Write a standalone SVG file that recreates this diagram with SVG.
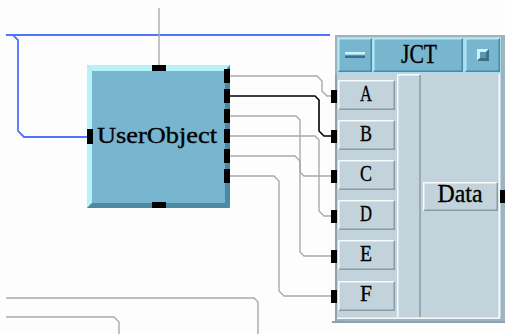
<svg xmlns="http://www.w3.org/2000/svg" width="505" height="334" viewBox="0 0 505 334">
  <style>
    .wire{fill:none;stroke:#a9a9a9;stroke-width:1.4}
    .wire-hot{fill:none;stroke:#000;stroke-width:1.6}
    .wire-blue{fill:none;stroke:#4f74ff;stroke-width:1.8}
    .pin{fill:#000}
    .lbl{font-family:"Liberation Serif","DejaVu Serif",serif;fill:#000;stroke:#000;stroke-width:0.35;text-anchor:middle}
    .panel{fill:#c3d3dc}
    .hi{fill:none;stroke:#f6fbfd;stroke-width:1.5}
    .lo{fill:none;stroke:#8a9ba7;stroke-width:1.5}
    .cell{fill:#78b5cf}
    .cell-hi{fill:none;stroke:#b4eaf4;stroke-width:1.5}
    .cell-lo{fill:none;stroke:#4a8aa3;stroke-width:1.5}
  </style>

  <rect width="505" height="334" fill="#fdfdfd"/>

  <!-- wires -->
  <g id="connectors">
    <path class="wire-blue" d="M6,35 H330"/>
    <path class="wire-blue" d="M13,35 L18,40 V131 L24,137 H87"/>
    <path class="wire" d="M159,8 V65"/>
    <path class="wire" d="M230,76 H317 L322,81 V91 L327,96 H331"/>
    <path class="wire-hot" d="M230,96 H315 L319,100 V131 L324,136 H331"/>
    <path class="wire" d="M230,116 H296 L300,120 V252 L304,256 H331"/>
    <path class="wire" d="M230,136 H315 L319,140 V211 L324,216 H331"/>
    <path class="wire" d="M230,156 H295 L300,161 V172 L304,176 H331"/>
    <path class="wire" d="M230,176 H274 L279,181 V291 L284,296 H331"/>
    <path class="wire" d="M6,298 H254 L258,302 V334"/>
    <path class="wire" d="M6,317 H114 L119,322 V334"/>
  </g>

  <!-- UserObject -->
  <g id="userobject">
    <rect x="87" y="65" width="143" height="143" fill="#78b5cf"/>
    <polygon points="87,65 230,65 225,71 92,71" fill="#b8f2f8"/>
    <polygon points="87,65 92,71 92,203 87,208" fill="#b8f2f8"/>
    <polygon points="87,208 92,203 225,203 230,208" fill="#4a8aa3"/>
    <polygon points="230,65 230,208 225,203 225,71" fill="#4a8aa3"/>
    <rect class="pin" x="152" y="65" width="14" height="6"/>
    <rect class="pin" x="152" y="202" width="14" height="6"/>
    <rect class="pin" x="87" y="129" width="6" height="15"/>
    <rect class="pin" x="224" y="69" width="6" height="14"/>
    <rect class="pin" x="224" y="89" width="6" height="14"/>
    <rect class="pin" x="224" y="109" width="6" height="14"/>
    <rect class="pin" x="224" y="129" width="6" height="14"/>
    <rect class="pin" x="224" y="149" width="6" height="14"/>
    <rect class="pin" x="224" y="169" width="6" height="14"/>
    <text class="lbl" x="157" y="143" font-size="24" textLength="120" lengthAdjust="spacingAndGlyphs">UserObject</text>
  </g>

  <!-- JCT -->
  <g id="jct">
    <rect x="335" y="35" width="170" height="288" fill="#9fb3bf"/>
    <rect x="337" y="37" width="164" height="36" fill="#a8dcea"/>
    <rect class="panel" x="337" y="73" width="164" height="245"/>
    <!-- title bar -->
    <rect class="cell" x="338" y="38" width="34" height="34"/>
    <path class="cell-hi" d="M338.75,71 V38.75 H371"/>
    <path class="cell-lo" d="M339,71.25 H371.25 V39"/>
    <rect class="cell" x="373" y="38" width="90" height="34"/>
    <path class="cell-hi" d="M373.75,71 V38.75 H462"/>
    <path class="cell-lo" d="M374,71.25 H462.25 V39"/>
    <rect class="cell" x="465" y="38" width="35" height="34"/>
    <path class="cell-hi" d="M465.75,71 V38.75 H499"/>
    <path class="cell-lo" d="M466,71.25 H499.25 V39"/>
    <rect x="345" y="52" width="20" height="6" fill="#78b5cf"/>
    <rect x="345" y="52" width="20" height="2.5" fill="#c8f4fa"/>
    <rect x="345" y="55.5" width="20" height="2.5" fill="#3a7088"/>
    <polygon points="477,49 489,49 477,61" fill="#c8f4fa"/>
    <polygon points="489,49 489,61 477,61" fill="#3a7088"/>
    <rect x="480" y="52" width="6" height="6" fill="#5a98b2"/>
    <text class="lbl" x="419" y="63" font-size="27" textLength="36" lengthAdjust="spacingAndGlyphs">JCT</text>

    <!-- body -->
    <path class="lo" d="M336,74 V322"/>
    <rect class="panel" x="397" y="74" width="24" height="243"/>
    <path class="hi" d="M397.75,317 V74.75 H420"/>
    <path class="lo" d="M420,75 V317"/>
    <path class="hi" d="M499.25,74 V318"/>
    <path class="hi" d="M337,318.25 H500"/>
    <path d="M332,322 H505" stroke="#8fa0ab" stroke-width="2"/>

    <!-- input terminals -->
    <g id="term-a">
      <path class="hi" d="M338.75,110 V80.75 H394"/>
      <path class="lo" d="M339,109.25 H394.25 V81"/>
      <rect class="pin" x="331" y="90" width="6" height="13"/>
      <text class="lbl" x="366" y="101" font-size="24" textLength="12" lengthAdjust="spacingAndGlyphs">A</text>
    </g>
    <g id="term-b">
      <path class="hi" d="M338.75,150 V120.75 H394"/>
      <path class="lo" d="M339,149.25 H394.25 V121"/>
      <rect class="pin" x="331" y="130" width="6" height="13"/>
      <text class="lbl" x="366" y="141" font-size="24" textLength="12" lengthAdjust="spacingAndGlyphs">B</text>
    </g>
    <g id="term-c">
      <path class="hi" d="M338.75,190 V160.75 H394"/>
      <path class="lo" d="M339,189.25 H394.25 V161"/>
      <rect class="pin" x="331" y="170" width="6" height="13"/>
      <text class="lbl" x="366" y="181" font-size="24" textLength="12" lengthAdjust="spacingAndGlyphs">C</text>
    </g>
    <g id="term-d">
      <path class="hi" d="M338.75,230 V200.75 H394"/>
      <path class="lo" d="M339,229.25 H394.25 V201"/>
      <rect class="pin" x="331" y="210" width="6" height="13"/>
      <text class="lbl" x="366" y="221" font-size="24" textLength="12" lengthAdjust="spacingAndGlyphs">D</text>
    </g>
    <g id="term-e">
      <path class="hi" d="M338.75,270 V240.75 H394"/>
      <path class="lo" d="M339,269.25 H394.25 V241"/>
      <rect class="pin" x="331" y="250" width="6" height="13"/>
      <text class="lbl" x="366" y="261" font-size="24" textLength="12" lengthAdjust="spacingAndGlyphs">E</text>
    </g>
    <g id="term-f">
      <path class="hi" d="M338.75,311 V281.75 H394"/>
      <path class="lo" d="M339,310.25 H394.25 V282"/>
      <rect class="pin" x="331" y="290" width="6" height="13"/>
      <text class="lbl" x="366" y="301" font-size="24" textLength="12" lengthAdjust="spacingAndGlyphs">F</text>
    </g>

    <!-- output terminal -->
    <g id="term-data">
      <path class="hi" d="M423.75,211 V182.75 H497"/>
      <path class="lo" d="M424,210.25 H497.25 V183"/>
      <rect class="pin" x="500" y="190" width="5" height="13"/>
      <text class="lbl" x="460" y="202" font-size="25" textLength="45" lengthAdjust="spacingAndGlyphs">Data</text>
    </g>
  </g>
</svg>
